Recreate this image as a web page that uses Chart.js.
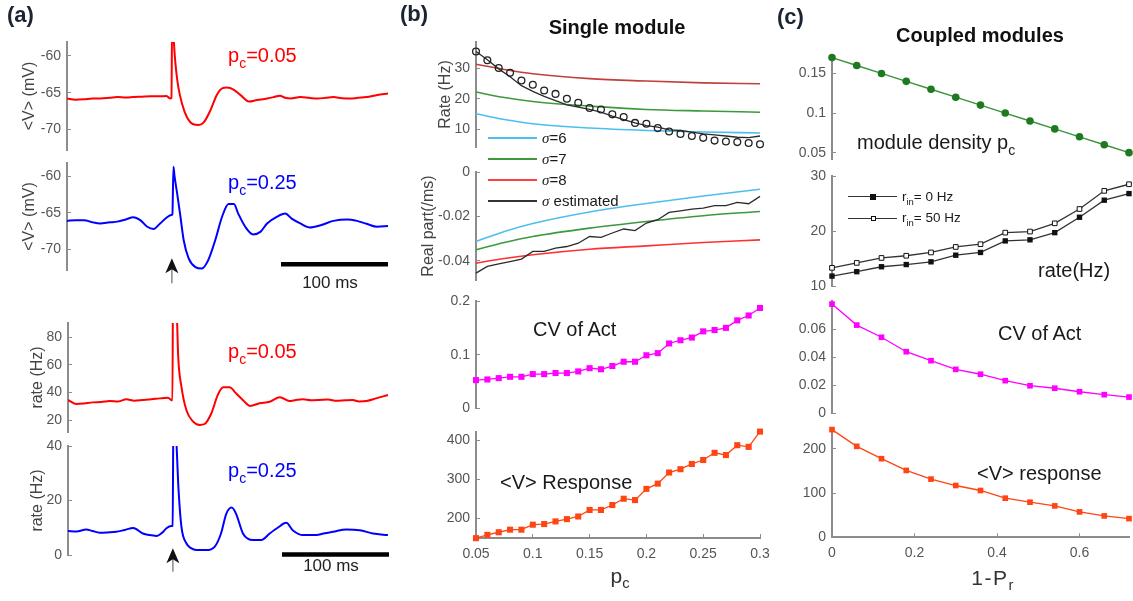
<!DOCTYPE html>
<html>
<head>
<meta charset="utf-8">
<script src="https://cdn.jsdelivr.net/npm/chart.js@4.4.1/dist/chart.umd.min.js"></script>
<style>
html,body{margin:0;padding:0;background:#fff;}
#wrap{position:relative;width:1133px;height:601px;overflow:hidden;font-family:"Liberation Sans",Arial,Helvetica,sans-serif;background:#fff;}
#wrap canvas{position:absolute;left:0;top:0;z-index:1;}
.t{position:absolute;white-space:nowrap;line-height:1;transform:translateY(-50%);z-index:3;}
.c{transform:translate(-50%,-50%);}
sub{font-size:70%;vertical-align:-0.4em;line-height:0;}
.pl{font-weight:bold;font-size:22px;color:#1b2433;}
.tt{font-weight:bold;font-size:20px;color:#111;}
.an{font-size:20px;color:#1a1a1a;}
.sb{font-size:17px;color:#222;}
.xl{font-size:21px;color:#333;}
.lg{font-size:15px;color:#1a1a1a;}
.lg2{font-size:13.5px;color:#1a1a1a;}
.sg{font-family:"Liberation Serif","DejaVu Serif",serif;font-style:italic;}
.sw{position:absolute;height:0;z-index:3;}
.mk{position:absolute;z-index:4;box-sizing:border-box;}
</style>
</head>
<body>
<div id="wrap">
  <div class="t pl" style="left:7px;top:15.4px">(a)</div>
  <div class="t pl" style="left:400px;top:14px">(b)</div>
  <div class="t pl" style="left:777px;top:16.5px">(c)</div>
  <div class="t tt c" style="left:617px;top:27.4px">Single module</div>
  <div class="t tt c" style="left:980px;top:34.8px">Coupled modules</div>

  <div class="t an" style="left:228px;top:55px;color:#ff0000">p<sub>c</sub>=0.05</div>
  <div class="t an" style="left:228px;top:181.7px;color:#0000ff">p<sub>c</sub>=0.25</div>
  <div class="t an" style="left:228px;top:350.7px;color:#ff0000">p<sub>c</sub>=0.05</div>
  <div class="t an" style="left:228px;top:470px;color:#0000ff">p<sub>c</sub>=0.25</div>
  <div class="t sb c" style="left:330px;top:281.8px">100 ms</div>
  <div class="t sb c" style="left:331px;top:565.2px">100 ms</div>

  <div class="sw" style="left:488px;top:137.3px;width:49px;border-top:2px solid #4dbfee"></div>
  <div class="t lg" style="left:542px;top:138.3px"><span class="sg">σ</span>=6</div>
  <div class="sw" style="left:488px;top:158.3px;width:49px;border-top:2px solid #3c9a3c"></div>
  <div class="t lg" style="left:542px;top:159.3px"><span class="sg">σ</span>=7</div>
  <div class="sw" style="left:488px;top:179px;width:49px;border-top:2px solid #ff4040"></div>
  <div class="t lg" style="left:542px;top:180px"><span class="sg">σ</span>=8</div>
  <div class="sw" style="left:488px;top:199.7px;width:49px;border-top:2px solid #333"></div>
  <div class="t lg" style="left:542px;top:200.7px"><span class="sg">σ</span> estimated</div>

  <div class="t an" style="left:533px;top:329.4px">CV of Act</div>
  <div class="t an" style="left:500px;top:481.7px">&lt;V&gt; Response</div>
  <div class="t xl c" style="left:620px;top:575px">p<sub>c</sub></div>

  <div class="t an" style="left:857px;top:141.7px">module density p<sub>c</sub></div>
  <div class="sw" style="left:848px;top:196.2px;width:49px;border-top:1.3px solid #333"></div>
  <div class="mk" style="left:870px;top:193.7px;width:6px;height:6px;background:#111"></div>
  <div class="t lg2" style="left:902px;top:196.7px">r<sub>in</sub>= 0 Hz</div>
  <div class="sw" style="left:848px;top:217.8px;width:49px;border-top:1.3px solid #333"></div>
  <div class="mk" style="left:870.5px;top:215.8px;width:5px;height:5px;background:#fff;border:1px solid #111"></div>
  <div class="t lg2" style="left:902px;top:218.3px">r<sub>in</sub>= 50 Hz</div>
  <div class="t an" style="left:1038px;top:270px">rate(Hz)</div>
  <div class="t an" style="left:998px;top:332.7px">CV of Act</div>
  <div class="t an" style="left:977px;top:473.4px">&lt;V&gt; response</div>
  <div class="t xl c" style="left:993px;top:577px;letter-spacing:1.5px">1-P<sub>r</sub></div>
</div>
<script>
// ---------------- DATA ----------------
// (a) time courses, time in ms
const a1Time = [0,8,16,24,31,40,47,55,62,70,78,86,93,96.5,97.6,98.3,99.3,100.5,102,104,107.5,112,118,123,128,134,140,145,149.5,156,162,170,177.5,187,193,199,204,209,218,226,234,242,249,257,265,272,280,290,300];
const a1Volt = [-65.8,-65.95,-65.9,-65.8,-65.8,-65.7,-65.6,-65.65,-65.6,-65.55,-65.5,-65.5,-65.45,-65.8,-65.7,-55,-56.5,-59.5,-62.0,-64.2,-66.5,-68.3,-69.3,-69.4,-69.0,-67.4,-65.3,-64.4,-64.3,-64.6,-65.3,-66.2,-66.0,-65.8,-65.6,-65.4,-65.7,-65.8,-65.6,-65.7,-65.8,-65.7,-65.6,-65.75,-65.8,-65.7,-65.6,-65.3,-65.1];

const a2Time = [0,8,16,24,31,40,47,55,62,68.5,75,81,87,93.5,97.5,98.5,99.5,100.5,103,106,109,113.7,120,126,132,138.6,145,151,156,160,166.6,174,180.7,187,196,204,210,218,227,237,249,262,271,280,290,300];
const a2Volt = [-66.1,-66.0,-66.0,-66.3,-66.45,-66.3,-66.2,-65.9,-65.6,-66.0,-66.9,-67.2,-66.45,-65.6,-65.3,-65.2,-58.7,-60.0,-62.4,-65.5,-68.7,-71.2,-72.4,-72.6,-71.45,-68.7,-65.5,-63.8,-63.8,-65.1,-66.9,-67.95,-67.6,-66.45,-65.55,-65.1,-65.8,-66.45,-67.0,-66.7,-66.1,-65.9,-66.1,-66.5,-66.9,-66.8];

const a3Time = [0,8,15,23,31,39,47,54.5,62,70,78,85.7,93.5,96.6,97.6,98.2,100.5,101.8,103,106,110.6,117,123,127.7,134,140,145,151,157,165,170,179,188.5,198,207,213,219.6,227,235,243,251,259,266,272,279,288,299];
const a3Rate = [34.5,31.6,32.0,32.8,33.0,33.8,33.5,35.0,34.0,34.5,35.0,35.7,36.2,34.5,34.3,125,118,95,66,44.2,27.3,18.8,16.4,17.1,24.9,38.2,43.7,43.7,39.4,33.3,30.2,32.1,33.3,36.5,33.8,34.5,35.0,34.3,34.5,34.8,34.0,34.3,34.5,33.5,33.8,35.7,38.2];

const a4Time = [0,8,17,23,29.6,37,45,53,61,70,76,82.6,88,92,96.6,97.8,98.6,100.3,101.5,103,106,110.6,115,120,129,137,143,148,153,157,163.5,168,173,180.7,188.5,196,204,210,219.6,232,240,247.7,260,272.6,285,299];
const a4Rate = [8.8,8.6,9.4,8.8,8.2,8.3,8.5,9.2,9.9,7.9,7.3,7.0,8.2,9.8,10.6,10.7,55,55,40,26.2,10.4,4.3,2.5,1.8,1.8,3.0,7.9,15.2,17.4,15.2,7.9,6.0,5.5,5.5,7.9,10.0,11.8,9.1,7.3,7.3,8.0,8.5,9.4,9.1,7.9,7.3];

const stimTime = 98;          // arrow (stimulus) time, ms
const scaleBarMs = [200, 300]; // 100 ms scale bar
const scaleBarV = -72.0;
const scaleBarRate = 0.2;

// (b) single module, x = p_c
const pcValues = [0.05,0.06,0.07,0.08,0.09,0.10,0.11,0.12,0.13,0.14,0.15,0.16,0.17,0.18,0.19,0.20,0.21,0.22,0.23,0.24,0.25,0.26,0.27,0.28,0.29,0.30];
const rateSimulated = [35.5,32.6,30.1,28.5,26.0,24.6,22.7,21.6,20.0,18.7,17.0,16.5,14.9,14.0,12.1,11.8,10.4,9.3,8.5,7.8,7.2,6.3,6.0,5.8,5.5,5.1];
const rateEstimated = [35.5,32.8,29.8,27.2,24.3,22.4,20.8,19.4,18.0,17.3,16.5,15.6,14.3,13.2,12.1,11.2,10.7,9.8,9.6,9.1,8.5,8.2,7.8,7.4,7.3,7.8];
const pcModel = [0.05,0.075,0.10,0.15,0.20,0.25,0.30];
const rateSigma6 = [15.1,13.2,11.8,10.4,9.6,9.1,8.8];
const rateSigma7 = [22.2,20.4,19.1,17.6,16.5,16.0,15.6];
const rateSigma8 = [31.3,29.6,28.2,26.6,25.8,25.2,24.9];
const realSigma6 = [-0.0313,-0.0268,-0.0232,-0.0180,-0.0142,-0.0108,-0.0078];
const realSigma7 = [-0.0351,-0.0318,-0.0291,-0.0253,-0.0223,-0.0197,-0.0178];
const realSigma8 = [-0.0411,-0.0390,-0.0373,-0.0348,-0.0333,-0.0318,-0.0306];
const realEstimated = [-0.0456,-0.0426,-0.0414,-0.0404,-0.0393,-0.0358,-0.0358,-0.0343,-0.0336,-0.0321,-0.0291,-0.0295,-0.0275,-0.0257,-0.0264,-0.0230,-0.0215,-0.0182,-0.0175,-0.0167,-0.0163,-0.0152,-0.0152,-0.0137,-0.0143,-0.0110];
const cvSingle = [0.0528,0.054,0.0565,0.059,0.059,0.064,0.064,0.066,0.066,0.069,0.075,0.073,0.079,0.087,0.087,0.099,0.103,0.121,0.127,0.132,0.1435,0.146,0.150,0.164,0.173,0.187];
const vRespSingle = [149.6,158,164.7,171.3,171.3,184,185.6,192.4,198.2,205,221.7,221.7,234.3,250.4,246.9,275.6,289,317.4,325.9,339.3,349.4,367.8,362,387.2,383,422];

// (c) coupled modules, x = 1-P_r
const prValues = [0,0.06,0.12,0.18,0.24,0.30,0.36,0.42,0.48,0.54,0.60,0.66,0.72];
const densityPc = [0.17,0.16,0.15,0.14,0.13,0.12,0.11,0.10,0.09,0.08,0.07,0.06,0.05];
const rateR0 = [11.8,12.6,13.5,13.9,14.4,15.6,16.1,18.2,18.4,19.7,22.5,25.6,26.8];
const rateR50 = [13.3,14.2,15.1,15.5,16.1,17.1,17.6,19.7,19.9,21.4,24.0,27.3,28.5];
const cvCoupled = [0.078,0.063,0.0543,0.044,0.0376,0.0314,0.0279,0.0233,0.0197,0.0179,0.0154,0.0133,0.0116];
const vRespCoupled = [243.9,206,178,151.4,131.8,117.3,106,88.6,79.5,71.1,57.5,48.4,42.3];

// tick values and labels
const vTicks = [-70,-65,-60], vTickLabels = ['-70','-65','-60'];
const rateA3Ticks = [20,40,60,80], rateA3Labels = ['20','40','60','80'];
const rateA4Ticks = [0,20,40], rateA4Labels = ['0','20','40'];
const rateBTicks = [10,20,30], rateBLabels = ['10','20','30'];
const realTicks = [-0.04,-0.02,0], realLabels = ['-0.04','-0.02','0'];
const cvBTicks = [0,0.1,0.2], cvBLabels = ['0','0.1','0.2'];
const vBTicks = [200,300,400], vBLabels = ['200','300','400'];
const pcTicks = [0.05,0.1,0.15,0.2,0.25,0.3], pcLabels = ['0.05','0.1','0.15','0.2','0.25','0.3'];
const densTicks = [0.05,0.1,0.15], densLabels = ['0.05','0.1','0.15'];
const rateCTicks = [10,20,30], rateCLabels = ['10','20','30'];
const cvCTicks = [0,0.02,0.04,0.06], cvCLabels = ['0','0.02','0.04','0.06'];
const vCTicks = [0,100,200], vCLabels = ['0','100','200'];
const prTicks = [0,0.2,0.4,0.6], prLabels = ['0','0.2','0.4','0.6'];

// ---------------- RENDERING ----------------
const FONT = '"Liberation Sans", Arial, Helvetica, sans-serif';
const AXIS_COLOR = '#8c8c8c';
const TICK_COLOR = '#555555';
const W = 1133, H = 601, YW = 60, XH = 40;

function zeroPad(s){ s.paddingTop = 0; s.paddingBottom = 0; s.paddingLeft = 0; s.paddingRight = 0; }
function axisCommon(ticks, labels, pad){
  return {
    border: {display: true, color: AXIS_COLOR, width: 2},
    grid: {display: true, drawOnChartArea: false, drawTicks: true, tickLength: -4, color: AXIS_COLOR, lineWidth: 1},
    ticks: {color: TICK_COLOR, font: {family: FONT, size: 14}, padding: pad, autoSkip: false, maxRotation: 0, callback: (v, i) => labels[i]},
    afterBuildTicks: s => { s.ticks = ticks.map(v => ({value: v})); }
  };
}
function yScale(min, max, ticks, labels, title){
  const o = Object.assign({type: 'linear', position: 'left', min, max,
    afterFit: s => { s.width = YW; zeroPad(s); }}, axisCommon(ticks, labels, 10));
  o.title = title ? {display: true, text: title.text, color: '#444', font: {family: FONT, size: 16}, padding: {top: title.pad, bottom: 0}} : {display: false};
  return o;
}
function xScale(min, max, ticks, labels){
  if (!ticks) return {type: 'linear', min, max, display: false};
  return Object.assign({type: 'linear', position: 'bottom', min, max,
    afterFit: s => { s.height = XH; zeroPad(s); }}, axisCommon(ticks, labels, 11.5));
}
function series(xs, ys, style){
  return Object.assign({data: xs.map((x, i) => ({x, y: ys[i]})), pointRadius: 0, borderWidth: 1.5, fill: false, tension: 0}, style);
}
const trace = c => ({borderColor: c, borderWidth: 2, cubicInterpolationMode: 'monotone'});
const smooth = c => ({borderColor: c, borderWidth: 1.6, cubicInterpolationMode: 'monotone', clip: false});
const squares = (c, r) => ({borderColor: c, borderWidth: 1.3, pointStyle: 'rect', pointRadius: r, pointBackgroundColor: c, pointBorderColor: c, pointBorderWidth: 0, clip: false});

const arrowPlugin = {
  id: 'stimArrow',
  afterDraw(chart, args, opts){
    if (!opts || opts.t === undefined) return;
    const ctx = chart.ctx;
    const x = chart.scales.x.getPixelForValue(opts.t);
    const b = chart.chartArea.bottom;
    const tip = b + opts.tip, end = b + opts.end;
    ctx.save();
    ctx.strokeStyle = '#888'; ctx.lineWidth = 1.5;
    ctx.beginPath(); ctx.moveTo(x, tip + 10); ctx.lineTo(x, end); ctx.stroke();
    ctx.fillStyle = '#111';
    ctx.beginPath();
    ctx.moveTo(x, tip); ctx.lineTo(x + 6.5, tip + 15); ctx.lineTo(x, tip + 11); ctx.lineTo(x - 6.5, tip + 15);
    ctx.closePath(); ctx.fill();
    ctx.restore();
  }
};

const panels = [
  // (a)
  {box: [67, 42, 388, 150], x: xScale(0, 300), y: yScale(-72.8, -58.1, vTicks, vTickLabels, {text: '<V> (mV)', pad: 12.9}),
   ds: [series(a1Time, a1Volt, trace('#ff0000'))]},
  {box: [67, 163, 388, 270], x: xScale(0, 300), y: yScale(-72.8, -58.2, vTicks, vTickLabels, {text: '<V> (mV)', pad: 12.9}),
   ds: [series(a2Time, a2Volt, trace('#0000ff')),
        series(scaleBarMs, [scaleBarV, scaleBarV], {borderColor: '#000', borderWidth: 4.5, clip: false})],
   arrow: {t: stimTime, tip: -11.7, end: 13.3}},
  {box: [68, 323, 389, 432], x: xScale(0, 300), y: yScale(11.3, 90.4, rateA3Ticks, rateA3Labels, {text: 'rate (Hz)', pad: 19.9}),
   ds: [series(a3Time, a3Rate, trace('#ff0000'))]},
  {box: [68, 446, 389, 555], x: xScale(0, 300), y: yScale(0, 40, rateA4Ticks, rateA4Labels, {text: 'rate (Hz)', pad: 19.9}),
   ds: [series(a4Time, a4Rate, trace('#0000ff')),
        series(scaleBarMs, [scaleBarRate, scaleBarRate], {borderColor: '#000', borderWidth: 4.5, clip: false})],
   arrow: {t: stimTime, tip: -6.7, end: 16.7}},
  // (b)
  {box: [476, 42, 760, 147], x: xScale(0.05, 0.3), y: yScale(4.2, 38.6, rateBTicks, rateBLabels, {text: 'Rate (Hz)', pad: 19.9}),
   ds: [series(pcValues, rateSimulated, {showLine: false, pointStyle: 'circle', pointRadius: 3.4, pointBorderColor: '#222', pointBackgroundColor: 'rgba(255,255,255,0)', pointBorderWidth: 1.3, borderColor: '#222', clip: false}),
        series(pcValues, rateEstimated, {borderColor: '#2b2b2b', borderWidth: 1.3, clip: false}),
        series(pcModel, rateSigma8, smooth('#c0403c')),
        series(pcModel, rateSigma7, smooth('#3c9a3c')),
        series(pcModel, rateSigma6, smooth('#4dbfee'))]},
  {box: [476, 172, 760, 280], x: xScale(0.05, 0.3), y: yScale(-0.0487, 0, realTicks, realLabels, {text: 'Real part(/ms)', pad: 2.9}),
   ds: [series(pcValues, realEstimated, {borderColor: '#2b2b2b', borderWidth: 1.3, clip: false}),
        series(pcModel, realSigma8, smooth('#ff3030')),
        series(pcModel, realSigma7, smooth('#3c9a3c')),
        series(pcModel, realSigma6, smooth('#4dbfee'))]},
  {box: [476, 301, 760, 408.5], x: xScale(0.05, 0.3), y: yScale(0, 0.2, cvBTicks, cvBLabels),
   ds: [series(pcValues, cvSingle, squares('#ff00ff', 4.3))]},
  {box: [476, 432, 760, 538], x: xScale(0.05, 0.3, pcTicks, pcLabels), y: yScale(150, 421, vBTicks, vBLabels),
   ds: [series(pcValues, vRespSingle, squares('#ff4513', 4.3))]},
  // (c)
  {box: [832, 56, 1129, 159], x: xScale(0, 0.72), y: yScale(0.042, 0.172, densTicks, densLabels),
   ds: [series(prValues, densityPc, {borderColor: '#3a923a', borderWidth: 1.4, pointStyle: 'circle', pointRadius: 3.8, pointBackgroundColor: '#1f7a1f', pointBorderColor: '#1f7a1f', pointBorderWidth: 0, clip: false})]},
  {box: [832, 176, 1129, 286], x: xScale(0, 0.72), y: yScale(10, 30, rateCTicks, rateCLabels),
   ds: [series(prValues, rateR0, {borderColor: '#333', borderWidth: 1.3, pointStyle: 'rect', pointRadius: 3.8, pointBackgroundColor: '#111', pointBorderColor: '#111', pointBorderWidth: 0, clip: false}),
        series(prValues, rateR50, {borderColor: '#333', borderWidth: 1.3, pointStyle: 'rect', pointRadius: 3.3, pointBackgroundColor: '#fff', pointBorderColor: '#111', pointBorderWidth: 1, clip: false})]},
  {box: [832, 301.3, 1129, 413.3], x: xScale(0, 0.72), y: yScale(0, 0.08, cvCTicks, cvCLabels),
   ds: [series(prValues, cvCoupled, squares('#ff00ff', 4))]},
  {box: [832, 430, 1129, 537.3], x: xScale(0, 0.72, prTicks, prLabels), y: yScale(0, 243, vCTicks, vCLabels),
   ds: [series(prValues, vRespCoupled, squares('#ff4513', 4))]}
];

const wrap = document.getElementById('wrap');
panels.forEach((p, i) => {
  const cv = document.createElement('canvas');
  cv.width = W; cv.height = H;
  cv.style.width = W + 'px'; cv.style.height = H + 'px';
  wrap.insertBefore(cv, wrap.firstChild);
  const [l, t, r, b] = p.box;
  const hasX = p.x.display !== false;
  new Chart(cv.getContext('2d'), {
    type: 'line',
    data: {datasets: p.ds},
    options: {
      responsive: false, animation: false, devicePixelRatio: 1, events: [],
      layout: {autoPadding: false, padding: {left: l - YW, top: t, right: W - r, bottom: H - b - (hasX ? XH : 0)}},
      plugins: {legend: {display: false}, tooltip: {enabled: false}, stimArrow: p.arrow || {}},
      scales: {x: p.x, y: p.y}
    },
    plugins: [arrowPlugin]
  });
});
</script>
</body>
</html>
